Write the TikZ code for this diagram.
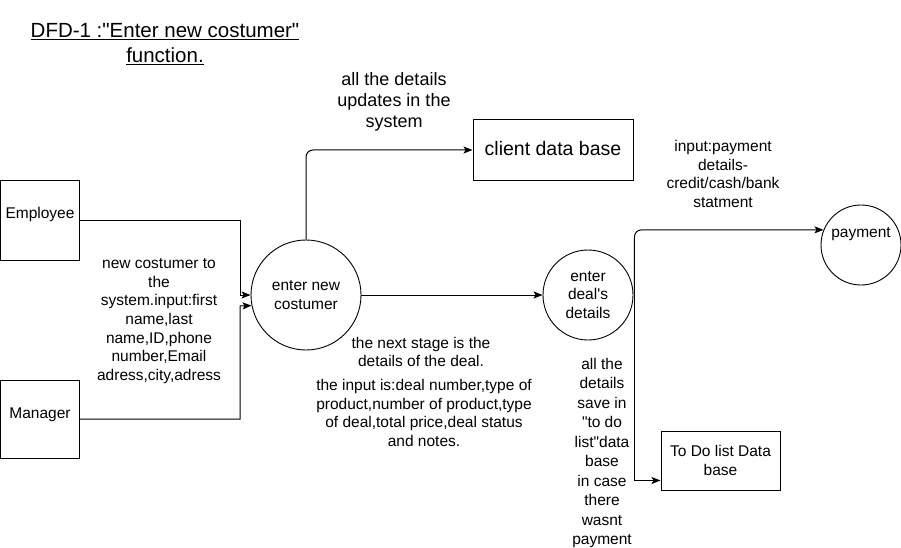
\documentclass[tikz,border=0pt]{standalone}
\usepackage{fontspec}
\setmainfont{Liberation Sans}[Ligatures=TeXOff]
\usetikzlibrary{arrows.meta,calc}
\begin{document}
\begin{tikzpicture}[x=1pt,y=-1pt,
  font=\fontsize{15.5}{18.7}\selectfont,
  box/.style={draw, line width=1pt, inner sep=0pt, align=center},
  proc/.style={draw, circle, line width=0.9pt, inner sep=0pt, align=center},
  lbl/.style={inner sep=0pt, align=center},
  arr/.style={line width=1pt, -{Stealth[length=9pt,width=7pt,inset=2pt]}}]
\fill[white] (0,0) rectangle (901,548);
\useasboundingbox (0,0) rectangle (901,548);

% title
\node[lbl, font=\fontsize{20.5}{24.5}\selectfont] (title) at (165,44)
  {\underline{DFD-1 :"Enter new costumer"}\\\underline{function.}};

% external entities and stores
\node[box, minimum width=79pt, minimum height=80pt] (emp) at (40,220) {\raisebox{15pt}{Employee}};
\node[box, minimum width=79pt, minimum height=78pt] (man) at (40,419) {\raisebox{12pt}{Manager}};
\node[box, minimum width=160pt, minimum height=60pt, font=\fontsize{19.5}{23}\selectfont] (cdb) at (553,150) {\raisebox{4pt}{client data base}};
\node[box, minimum width=119pt, minimum height=59pt] (todo) at (720.5,460.5) {To Do list Data\\base};

% processes
\node[proc, minimum size=110pt] (enc) at (306,295) {enter new\\costumer};
\node[proc, minimum size=90pt] (deal) at (588,295) {enter\\deal's\\details};
\node[proc, minimum size=80pt] (pay) at (861,245) {\raisebox{25pt}{payment}};

% labels
\node[lbl, font=\fontsize{18}{21}\selectfont] (l1) at (394,102) {all the details\\updates in the\\system};
\node[lbl] (l2) at (159,321) {new costumer to\\the\\system.input:first\\name,last\\name,ID,phone\\number,Email\\adress,city,adress};
\node[lbl] (l3) at (421,352) {the next stage is the\\details of the deal.};
\node[lbl] (l4) at (424,413) {the input is:deal number,type of\\product,number of product,type\\of deal,total price,deal status\\and notes.};
\node[lbl, font=\fontsize{15.5}{19.5}\selectfont] (l5) at (602,453) {all the\\details\\save in\\"to do\\list"data\\base\\in case\\there\\wasnt\\payment};
\node[lbl] (l6) at (723,174) {input:payment\\details-\\credit/cash/bank\\statment};

% connectors
\coordinate (j1) at (240,295);
\coordinate (j2) at (240,306);
\draw[arr] (emp.east) -| (j1) -- (enc.west);
\draw[arr] (man.east) -| (j2) -- (enc.191.5);
\draw[arr, rounded corners=7pt] (enc.north) |- (cdb.west);
\draw[arr] (enc.east) -- (deal.west);
\coordinate (k) at ([xshift=1pt]deal.east);
\draw[arr, rounded corners=7pt] (k) |- (pay.158);
\draw[arr] (k) |- ([yshift=10pt]todo.south west);
\end{tikzpicture}
\end{document}
